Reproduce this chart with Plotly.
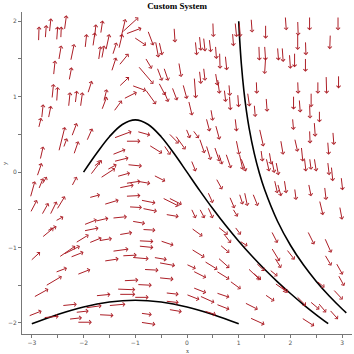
import plotly.graph_objects as go

# ---- trajectories ----
curve1_x = [-3.0, -2.5, -2.0, -1.5, -1.0, -0.5, 0.0, 0.5, 1.0]
curve1_y = [-2.011, -1.886, -1.787, -1.722, -1.699, -1.722, -1.787, -1.886, -2.011]

curve2_x = [-2.0, -1.75, -1.5, -1.25, -1.0, -0.75, -0.5, -0.25, 0.0, 0.25, 0.5, 0.75,
            1.0, 1.25, 1.5, 1.75, 2.0, 2.25, 2.5, 2.73]
curve2_y = [0.0, 0.247, 0.470, 0.632, 0.693, 0.632, 0.470, 0.247, 0.0, -0.248, -0.486, -0.709,
            -0.916, -1.109, -1.288, -1.454, -1.609, -1.755, -1.891, -2.009]

curve3_x = [1.0, 1.02, 1.05, 1.1, 1.15, 1.2, 1.3, 1.4, 1.5, 1.75, 2.0, 2.25, 2.5, 2.75, 3.0, 3.08]
curve3_y = [2.0, 1.740, 1.441, 1.078, 0.806, 0.588, 0.248, -0.015, -0.231, -0.651, -0.969,
            -1.229, -1.449, -1.642, -1.814, -1.865]

# ---- vector field arrows: (tail x, tail y, head x, head y) ----
arrows_top_left = [
    (-2.87, 1.73, -2.86, 1.93), (-2.74, 1.77, -2.72, 1.95), (-2.66, 1.85, -2.63, 2.04),
    (-2.52, 1.74, -2.50, 1.93), (-2.44, 1.77, -2.43, 1.93), (-2.37, 1.88, -2.33, 2.08),
    (-1.97, 1.64, -1.94, 1.83), (-1.82, 1.66, -1.78, 1.85), (-1.79, 1.77, -1.76, 1.96),
    (-1.67, 1.83, -1.63, 2.01), (-1.57, 1.61, -1.50, 1.83), (-2.48, 1.48, -2.43, 1.68),
    (-2.25, 1.47, -2.18, 1.70), (-2.58, 1.28, -2.55, 1.48), (-2.28, 1.21, -2.23, 1.39),
    (-1.71, 1.48, -1.67, 1.67), (-1.65, 1.50, -1.60, 1.68), (-1.46, 1.33, -1.37, 1.52),
    (-1.44, 1.55, -1.36, 1.72), (-1.32, 1.63, -1.25, 1.83), (-1.28, 1.77, -1.19, 2.03),
    (-1.26, 1.85, -0.94, 2.05), (-1.19, 1.83, -0.88, 1.91), (-1.32, 1.41, -1.13, 1.57),
    (-1.03, 1.79, -0.79, 1.68), (-0.76, 1.88, -0.65, 1.68), (-0.61, 1.74, -0.55, 1.52),
    (-0.54, 1.73, -0.48, 1.55), (-0.25, 1.92, -0.23, 1.72), (-0.81, 1.52, -0.68, 1.37),
    (-0.95, 1.41, -0.65, 1.17), (-0.58, 1.39, -0.48, 1.21), (-0.45, 1.39, -0.36, 1.21),
    (-0.16, 1.46, -0.11, 1.26), (-1.32, 1.13, -1.12, 1.26), (-1.07, 1.15, -0.79, 1.08),
    (-0.81, 1.10, -0.60, 0.90), (-0.55, 1.19, -0.42, 1.02), (-0.45, 1.08, -0.36, 0.93),
    (-0.29, 1.13, -0.19, 0.95), (-0.08, 1.17, 0.00, 0.97), (-2.61, 0.97, -2.58, 1.17),
    (-2.52, 0.93, -2.50, 1.13), (-2.29, 0.86, -2.26, 1.06), (-2.16, 0.91, -2.13, 1.08),
    (-2.06, 0.86, -2.02, 1.06), (-1.92, 1.04, -1.84, 1.21), (-1.65, 0.82, -1.55, 1.00),
    (-1.61, 0.93, -1.55, 1.10), (-1.42, 0.80, -1.26, 0.95), (-1.23, 0.97, -0.97, 1.06),
    (-2.81, 0.71, -2.78, 0.90), (-2.68, 0.71, -2.63, 0.88),
]

arrows_top_right = [
    (0.50, 1.99, 0.51, 1.79), (0.93, 1.99, 0.96, 1.79), (1.01, 1.99, 1.03, 1.79),
    (1.24, 2.04, 1.26, 1.85), (1.52, 1.96, 1.52, 1.77), (1.90, 2.07, 1.92, 1.88),
    (2.14, 2.01, 2.15, 1.81), (2.37, 2.07, 2.37, 1.88), (2.92, 2.07, 2.92, 1.88),
    (2.77, 1.83, 2.76, 1.63), (2.14, 1.85, 2.14, 1.62), (2.29, 1.74, 2.30, 1.55),
    (0.88, 1.85, 0.90, 1.67), (0.16, 1.74, 0.19, 1.55), (0.24, 1.81, 0.27, 1.61),
    (0.32, 1.79, 0.35, 1.60), (0.43, 1.77, 0.46, 1.59), (0.55, 1.68, 0.57, 1.50),
    (0.63, 1.59, 0.64, 1.37), (0.74, 1.55, 0.77, 1.35), (1.39, 1.68, 1.40, 1.48),
    (1.50, 1.68, 1.52, 1.48), (1.52, 1.52, 1.50, 1.30), (1.75, 1.66, 1.77, 1.48),
    (1.84, 1.66, 1.86, 1.46), (1.98, 1.57, 2.00, 1.37), (2.08, 1.59, 2.08, 1.39),
    (2.29, 1.52, 2.29, 1.33), (0.14, 1.26, 0.17, 0.98), (0.24, 1.35, 0.27, 1.17),
    (0.32, 1.39, 0.35, 1.21), (0.55, 1.32, 0.59, 1.15), (0.59, 1.24, 0.63, 1.04),
    (0.72, 1.10, 0.75, 0.93), (0.81, 1.17, 0.83, 1.01), (0.82, 1.02, 0.84, 0.82),
    (0.98, 1.04, 1.00, 0.86), (1.17, 1.06, 1.21, 0.87), (1.34, 1.21, 1.35, 1.04),
    (1.53, 0.99, 1.55, 0.80), (1.30, 0.90, 1.32, 0.73), (2.14, 1.21, 2.15, 1.04),
    (2.06, 1.02, 2.06, 0.83), (2.17, 0.97, 2.19, 0.79), (2.40, 1.06, 2.40, 0.86),
    (2.53, 1.21, 2.53, 1.04), (2.69, 1.28, 2.70, 1.04), (2.93, 1.29, 2.93, 1.11),
    (0.03, 0.95, 0.10, 0.75), (0.46, 0.84, 0.50, 0.68), (2.37, 0.90, 2.38, 0.71),
    (2.56, 0.82, 2.56, 0.66),
]

arrows_mid_left = [
    (-2.87, 0.58, -2.82, 0.72), (-2.48, 0.27, -2.36, 0.60), (-2.39, 0.32, -2.32, 0.45),
    (-2.23, 0.47, -2.13, 0.65), (-2.19, 0.23, -2.10, 0.41), (-1.94, 0.41, -1.83, 0.58),
    (-2.84, 0.16, -2.78, 0.34), (-2.90, -0.06, -2.81, 0.12), (-2.81, -0.17, -2.71, -0.06),
    (-3.03, -0.34, -2.94, -0.12), (-2.87, -0.23, -2.78, -0.08), (-2.23, -0.19, -2.13, -0.06),
    (-3.03, -0.54, -2.90, -0.37), (-2.81, -0.57, -2.68, -0.41), (-2.65, -0.57, -2.52, -0.39),
    (-2.52, -0.50, -2.36, -0.32), (-2.55, -0.65, -2.39, -0.59), (-1.87, -0.04, -1.65, 0.16),
    (-1.81, 0.07, -1.68, 0.14), (-1.68, -0.08, -1.39, 0.05), (-1.55, 0.03, -1.36, 0.10),
    (-1.42, 0.14, -1.13, 0.19), (-1.45, 0.23, -1.19, 0.30), (-1.42, 0.45, -1.07, 0.54),
    (-1.19, 0.41, -0.90, 0.41), (-0.97, 0.54, -0.71, 0.49), (-0.74, 0.36, -0.48, 0.25),
    (-0.45, 0.36, -0.32, 0.23), (-0.36, 0.52, -0.16, 0.38), (-0.23, 0.49, -0.03, 0.30),
    (-1.16, 0.10, -0.87, 0.08), (-1.36, -0.06, -1.10, -0.01), (-1.32, -0.21, -1.03, -0.17),
    (-1.19, -0.15, -0.90, -0.12), (-0.97, -0.12, -0.71, -0.15), (-0.65, -0.04, -0.42, -0.12),
    (-1.90, -0.34, -1.68, -0.30), (-1.61, -0.43, -1.32, -0.37), (-1.19, -0.32, -0.90, -0.31),
    (-1.13, -0.46, -0.87, -0.47), (-0.90, -0.37, -0.61, -0.41), (-0.87, -0.48, -0.58, -0.52),
    (-0.48, -0.34, -0.16, -0.45), (-0.36, -0.34, -0.10, -0.43), (-1.45, -0.61, -1.16, -0.59),
    (-1.77, -0.65, -1.52, -0.61), (-2.00, -0.70, -1.74, -0.63), (-1.07, -0.65, -0.81, -0.68),
    (-0.42, -0.56, -0.16, -0.59),
]

arrows_mid_right = [
    (-0.02, 0.58, 0.06, 0.45), (0.11, 0.56, 0.23, 0.45), (0.37, 0.72, 0.44, 0.54),
    (0.55, 0.63, 0.63, 0.43), (0.24, 0.45, 0.34, 0.25), (0.37, 0.36, 0.46, 0.16),
    (0.53, 0.34, 0.63, 0.14), (0.61, 0.25, 0.68, 0.10), (0.75, 0.25, 0.85, 0.05),
    (0.95, 0.43, 1.01, 0.23), (1.01, 0.25, 1.08, 0.03), (0.93, 0.72, 0.96, 0.54),
    (1.04, 0.19, 1.14, 0.01), (0.08, 0.16, 0.17, 0.01), (0.56, -0.08, 0.68, -0.23),
    (0.40, -0.26, 0.50, -0.41), (0.82, -0.32, 0.92, -0.48), (1.01, -0.28, 1.08, -0.43),
    (1.11, -0.26, 1.17, -0.45), (1.27, -0.28, 1.37, -0.45), (0.08, -0.48, 0.17, -0.61),
    (0.24, -0.48, 0.34, -0.61), (0.40, -0.46, 0.50, -0.61), (0.88, -0.48, 0.98, -0.59),
    (1.40, 0.58, 1.48, 0.34), (1.43, 0.30, 1.46, 0.14), (1.59, 0.27, 1.63, 0.10),
    (1.64, 0.16, 1.69, -0.01), (1.72, 0.14, 1.77, -0.04), (1.81, 0.43, 1.86, 0.23),
    (1.88, -0.10, 1.92, -0.28), (1.69, -0.10, 1.75, -0.28), (1.75, -0.15, 1.82, -0.32),
    (2.04, 0.72, 2.06, 0.56), (2.08, 0.45, 2.14, 0.27), (2.27, 0.19, 2.30, 0.01),
    (2.21, 0.34, 2.24, 0.14), (2.37, 0.19, 2.40, 0.03), (2.46, 0.19, 2.50, 0.01),
    (2.37, 0.56, 2.38, 0.38), (2.46, 0.67, 2.48, 0.47), (2.08, -0.21, 2.11, -0.37),
    (2.35, -0.15, 2.40, -0.32), (2.66, -0.19, 2.69, -0.37), (2.56, -0.37, 2.63, -0.57),
    (2.72, 0.41, 2.74, 0.23), (2.82, 0.54, 2.84, 0.36), (2.72, 0.14, 2.75, -0.04),
    (2.79, 0.08, 2.82, -0.12), (2.98, -0.06, 3.01, -0.24), (2.95, -0.45, 3.00, -0.63),
    (1.53, 0.19, 1.59, 0.01),
]

arrows_bottom_left = [
    (-2.81, -0.87, -2.58, -0.74), (-2.71, -0.78, -2.52, -0.72), (-2.16, -0.94, -1.90, -0.83),
    (-1.90, -0.94, -1.65, -0.87), (-1.71, -0.91, -1.45, -0.88), (-2.00, -0.78, -1.71, -0.74),
    (-1.32, -0.83, -1.06, -0.80), (-0.87, -0.76, -0.61, -0.77), (-0.94, -0.91, -0.65, -0.92),
    (-0.94, -0.98, -0.65, -1.00), (-0.52, -0.91, -0.26, -0.97), (-3.03, -1.18, -2.84, -1.06),
    (-2.48, -1.13, -2.16, -0.98), (-2.39, -1.09, -2.07, -0.98), (-2.26, -1.13, -2.00, -1.06),
    (-1.45, -1.05, -1.13, -1.02), (-1.61, -1.18, -1.32, -1.15), (-1.26, -1.11, -0.97, -1.10),
    (-1.07, -1.13, -0.74, -1.15), (-0.65, -1.13, -0.39, -1.16), (-0.55, -1.20, -0.23, -1.24),
    (-2.55, -1.33, -2.32, -1.27), (-2.74, -1.51, -2.42, -1.38), (-2.13, -1.36, -1.87, -1.29),
    (-2.97, -1.66, -2.68, -1.55), (-0.84, -1.29, -0.55, -1.30), (-0.55, -1.40, -0.26, -1.42),
    (-1.23, -1.44, -0.94, -1.43), (-0.97, -1.49, -0.68, -1.50), (-1.36, -1.55, -1.00, -1.56),
    (-1.77, -1.64, -1.48, -1.62), (-1.32, -1.62, -1.00, -1.62), (-1.03, -1.66, -0.74, -1.66),
    (-2.42, -1.77, -2.13, -1.75), (-3.07, -1.91, -2.81, -1.84), (-2.78, -1.93, -2.48, -1.91),
    (-2.16, -1.86, -1.90, -1.84), (-1.97, -1.80, -1.65, -1.77), (-1.71, -1.89, -1.42, -1.90),
    (-2.29, -1.95, -2.03, -1.93), (-2.13, -1.99, -1.84, -1.99), (-1.52, -1.77, -1.19, -1.75),
    (-0.90, -1.87, -0.68, -1.89), (-0.90, -1.99, -0.61, -2.02), (-0.42, -1.60, -0.16, -1.62),
    (-0.42, -1.71, -0.16, -1.73), (-0.36, -1.82, -0.10, -1.85),
]

arrows_bottom_right = [
    (0.08, -0.74, 0.30, -0.85), (0.59, -0.72, 0.79, -0.83), (0.92, -0.72, 1.04, -0.83),
    (1.63, -0.78, 1.75, -0.94), (0.69, -0.80, 0.85, -0.94), (0.63, -0.96, 0.82, -1.07),
    (1.01, -0.91, 1.17, -0.98), (0.08, -1.02, 0.34, -1.13), (0.59, -1.13, 0.82, -1.27),
    (-0.02, -1.22, 0.17, -1.28), (0.33, -1.18, 0.59, -1.29), (0.11, -1.31, 0.37, -1.40),
    (0.56, -1.31, 0.82, -1.42), (0.82, -1.44, 1.04, -1.55), (1.17, -1.27, 1.40, -1.42),
    (1.27, -1.33, 1.43, -1.43), (1.33, -1.20, 1.50, -1.31), (1.63, -1.00, 1.79, -1.18),
    (1.69, -1.13, 1.82, -1.27), (1.92, -1.02, 2.08, -1.16), (1.59, -1.29, 1.75, -1.38),
    (1.69, -1.47, 1.92, -1.58), (1.50, -1.62, 1.69, -1.71), (1.11, -1.73, 1.37, -1.82),
    (1.21, -1.93, 1.50, -2.02), (0.56, -1.60, 0.82, -1.66), (0.56, -1.75, 0.82, -1.82),
    (0.11, -1.53, 0.37, -1.60), (0.24, -1.64, 0.53, -1.73), (-0.02, -1.62, 0.24, -1.69),
    (0.33, -1.84, 0.56, -1.89), (2.33, -0.78, 2.46, -0.96), (2.66, -0.87, 2.79, -1.07),
    (2.66, -1.09, 2.79, -1.24), (2.88, -1.20, 3.01, -1.36), (2.92, -1.36, 3.04, -1.51),
    (2.50, -1.44, 2.66, -1.53), (2.82, -1.55, 3.01, -1.69), (2.11, -1.64, 2.30, -1.77),
    (2.37, -1.71, 2.56, -1.82), (2.53, -1.73, 2.69, -1.86), (2.75, -1.82, 2.92, -1.95),
    (2.21, -1.93, 2.46, -2.04), (1.79, -1.49, 1.95, -1.60),
]

x_tick_vals = [-3, -2.5, -2, -1.5, -1, -0.5, 0, 0.5, 1, 1.5, 2, 2.5, 3]
x_tick_text = ["\u22123", "", "\u22122", "", "\u22121", "", "0", "", "1", "", "2", "", "3"]
y_tick_vals = [-2, -1.5, -1, -0.5, 0, 0.5, 1, 1.5, 2]
y_tick_text = ["\u22122", "", "\u22121", "", "0", "", "1", "", "2"]

ARROW_COLOR = "rgb(172,30,38)"

fig = go.Figure()
for cx, cy in [(curve1_x, curve1_y), (curve2_x, curve2_y), (curve3_x, curve3_y)]:
    fig.add_trace(go.Scatter(x=cx, y=cy, mode="lines", line=dict(color="black", width=1.6, shape="spline"),
                             hoverinfo="skip", showlegend=False))

annotations = []
for group in [arrows_top_left, arrows_top_right, arrows_mid_left, arrows_mid_right,
              arrows_bottom_left, arrows_bottom_right]:
    for (x0, y0, x1, y1) in group:
        annotations.append(dict(x=x1, y=y1, ax=x0, ay=y0, xref="x", yref="y", axref="x", ayref="y",
                                text="", showarrow=True, arrowhead=4, arrowsize=0.8, arrowwidth=1,
                                arrowcolor=ARROW_COLOR, standoff=0))

annotations.append(dict(text="x", x=0.5, y=-0.054, xref="paper", yref="paper", showarrow=False,
                        font=dict(size=6, color="#444", family="Liberation Serif"), yanchor="middle"))
annotations.append(dict(text="y", x=-0.052, y=0.53, xref="paper", yref="paper", showarrow=False,
                        textangle=-90, font=dict(size=7, color="#444", family="Liberation Serif"),
                        xanchor="center"))

fig.update_layout(
    width=354, height=354,
    margin=dict(l=22, r=2, t=12, b=20),
    paper_bgcolor="white", plot_bgcolor="white",
    title=dict(text="<b>Custom System</b>", x=0.5, xref="container", y=0.983, yref="container",
               yanchor="middle", font=dict(family="Liberation Serif", size=9, color="black")),
    annotations=annotations,
    showlegend=False,
)
fig.update_xaxes(range=[-3.19, 3.19], tickvals=x_tick_vals, ticktext=x_tick_text,
                 showgrid=False, zeroline=False, showline=True, linecolor="#777", linewidth=1,
                 ticks="outside", ticklen=3, tickcolor="#777", tickwidth=1,
                 tickfont=dict(size=6, color="#555", family="DejaVu Sans"))
fig.update_yaxes(range=[-2.146, 2.123], tickvals=y_tick_vals, ticktext=y_tick_text,
                 showgrid=False, zeroline=False, showline=True, linecolor="#777", linewidth=1,
                 ticks="outside", ticklen=3, tickcolor="#777", tickwidth=1,
                 tickfont=dict(size=6, color="#555", family="DejaVu Sans"))

fig.write_html("out.html")
